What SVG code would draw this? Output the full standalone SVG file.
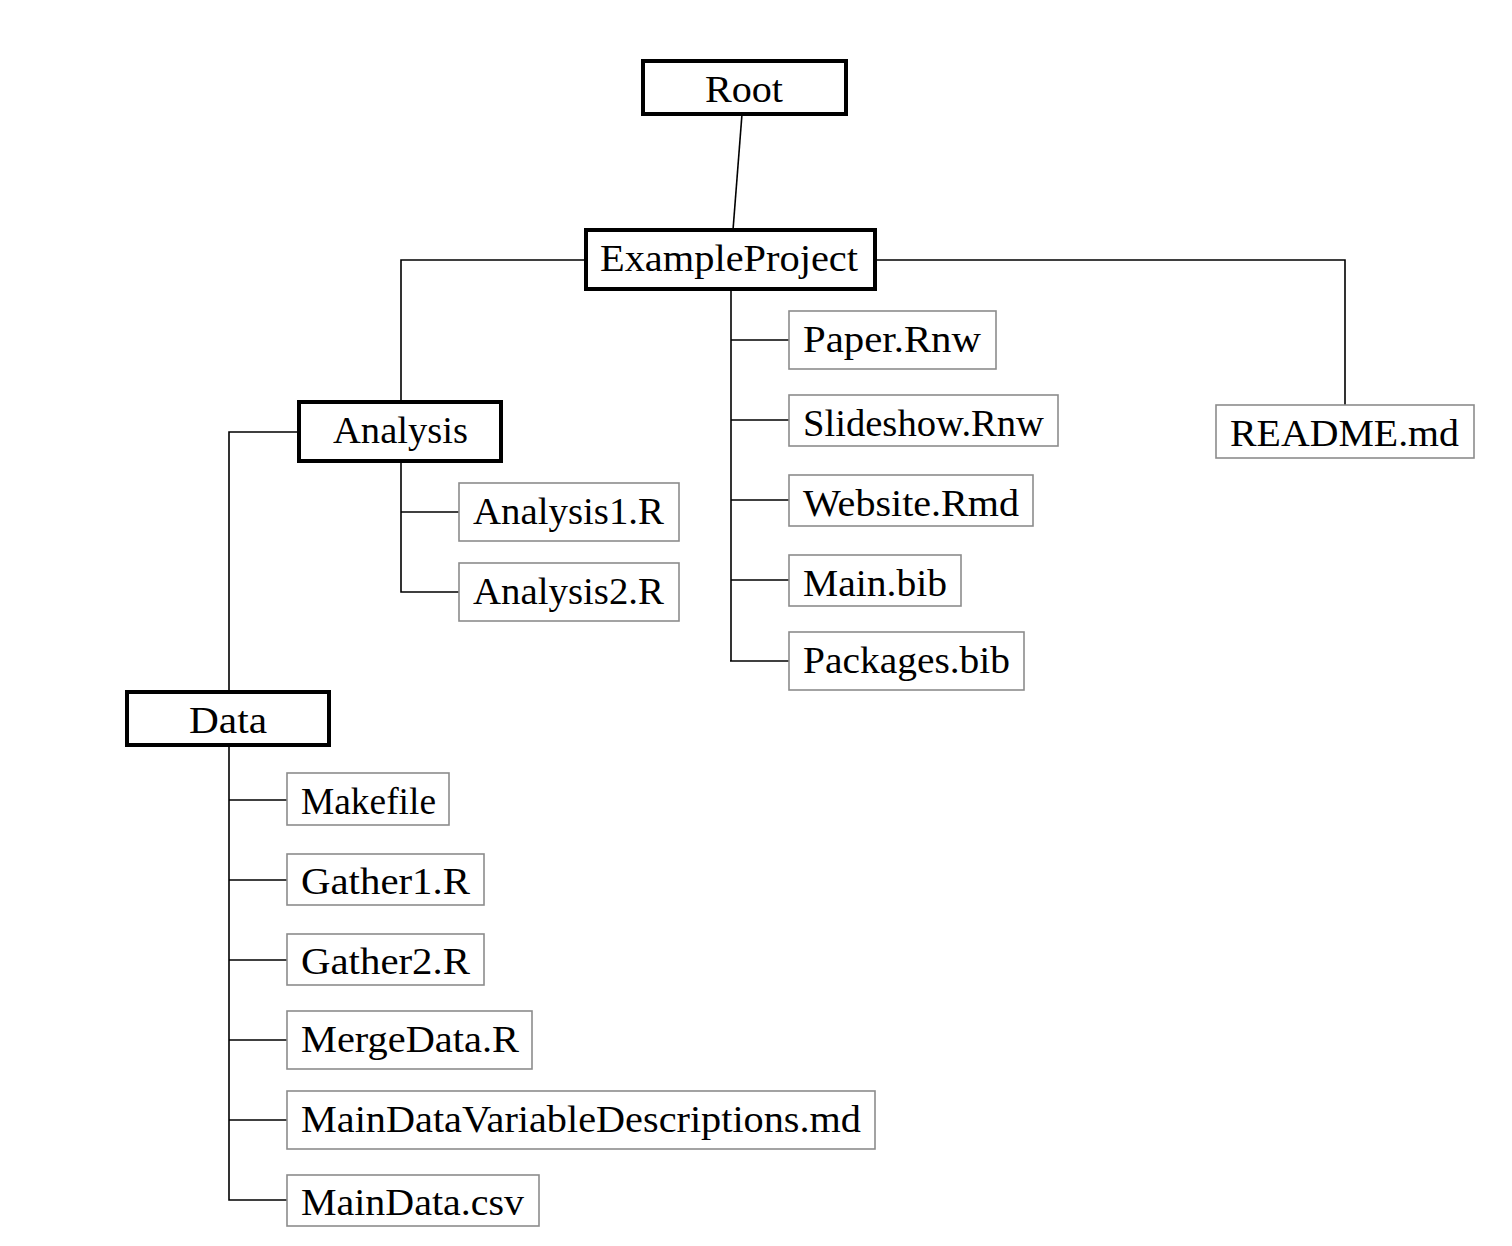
<svg xmlns="http://www.w3.org/2000/svg" width="1512" height="1246" viewBox="0 0 1512 1246">
<style>
.bg{fill:#fff}
.dir{fill:#fff;stroke:#000;stroke-width:4}
.file{fill:#fff;stroke:#8c8c8c;stroke-width:1.6}
.lbl{font-family:"Liberation Serif","DejaVu Serif",serif;font-size:37px;fill:#000}
.conn{fill:none;stroke:#000;stroke-width:1.6}
</style>
<rect class="bg" x="0" y="0" width="1512" height="1246"/>
<g id="connectors">
<line class="conn" x1="742" y1="114" x2="733" y2="230"/>
<polyline class="conn" points="586,260 401,260 401,402"/>
<polyline class="conn" points="875,260 1345,260 1345,405"/>
<line class="conn" x1="731" y1="289" x2="731" y2="661"/>
<line class="conn" x1="731" y1="340" x2="789" y2="340"/>
<line class="conn" x1="731" y1="420" x2="789" y2="420"/>
<line class="conn" x1="731" y1="500" x2="789" y2="500"/>
<line class="conn" x1="731" y1="580" x2="789" y2="580"/>
<line class="conn" x1="730" y1="661" x2="789" y2="661"/>
<polyline class="conn" points="299,432 229,432 229,692"/>
<polyline class="conn" points="401,461 401,592 459,592"/>
<line class="conn" x1="401" y1="512" x2="459" y2="512"/>
<polyline class="conn" points="229,745 229,1200 287,1200"/>
<line class="conn" x1="229" y1="800" x2="287" y2="800"/>
<line class="conn" x1="229" y1="880" x2="287" y2="880"/>
<line class="conn" x1="229" y1="960" x2="287" y2="960"/>
<line class="conn" x1="229" y1="1040" x2="287" y2="1040"/>
<line class="conn" x1="229" y1="1120" x2="287" y2="1120"/>
</g>
<g id="root"><rect class="dir" x="643" y="61" width="203" height="53"/><text class="lbl" x="705" y="102" textLength="78" lengthAdjust="spacingAndGlyphs">Root</text></g>
<g id="exampleproject"><rect class="dir" x="586" y="230" width="289" height="59"/><text class="lbl" x="600" y="271" textLength="258" lengthAdjust="spacingAndGlyphs">ExampleProject</text></g>
<g id="paper"><rect class="file" x="789" y="311" width="207" height="58"/><text class="lbl" x="803" y="352" textLength="178" lengthAdjust="spacingAndGlyphs">Paper.Rnw</text></g>
<g id="slideshow"><rect class="file" x="789" y="395" width="269" height="51"/><text class="lbl" x="803" y="436" textLength="241" lengthAdjust="spacingAndGlyphs">Slideshow.Rnw</text></g>
<g id="website"><rect class="file" x="789" y="475" width="244" height="51"/><text class="lbl" x="803" y="516" textLength="216" lengthAdjust="spacingAndGlyphs">Website.Rmd</text></g>
<g id="mainbib"><rect class="file" x="789" y="555" width="172" height="51"/><text class="lbl" x="803" y="596" textLength="144" lengthAdjust="spacingAndGlyphs">Main.bib</text></g>
<g id="packagesbib"><rect class="file" x="789" y="632" width="235" height="58"/><text class="lbl" x="803" y="673" textLength="207" lengthAdjust="spacingAndGlyphs">Packages.bib</text></g>
<g id="readme"><rect class="file" x="1216" y="405" width="258" height="53"/><text class="lbl" x="1230" y="446" textLength="229" lengthAdjust="spacingAndGlyphs">README.md</text></g>
<g id="analysis"><rect class="dir" x="299" y="402" width="202" height="59"/><text class="lbl" x="333" y="443" textLength="135" lengthAdjust="spacingAndGlyphs">Analysis</text></g>
<g id="analysis1"><rect class="file" x="459" y="483" width="220" height="58"/><text class="lbl" x="473" y="524" textLength="191" lengthAdjust="spacingAndGlyphs">Analysis1.R</text></g>
<g id="analysis2"><rect class="file" x="459" y="563" width="220" height="58"/><text class="lbl" x="473" y="604" textLength="191" lengthAdjust="spacingAndGlyphs">Analysis2.R</text></g>
<g id="data"><rect class="dir" x="127" y="692" width="202" height="53"/><text class="lbl" x="189" y="733" textLength="78" lengthAdjust="spacingAndGlyphs">Data</text></g>
<g id="makefile"><rect class="file" x="287" y="773" width="162" height="52"/><text class="lbl" x="301" y="814" textLength="135" lengthAdjust="spacingAndGlyphs">Makefile</text></g>
<g id="gather1"><rect class="file" x="287" y="854" width="197" height="51"/><text class="lbl" x="301" y="894" textLength="169" lengthAdjust="spacingAndGlyphs">Gather1.R</text></g>
<g id="gather2"><rect class="file" x="287" y="934" width="197" height="51"/><text class="lbl" x="301" y="974" textLength="169" lengthAdjust="spacingAndGlyphs">Gather2.R</text></g>
<g id="mergedata"><rect class="file" x="287" y="1011" width="245" height="58"/><text class="lbl" x="301" y="1052" textLength="218" lengthAdjust="spacingAndGlyphs">MergeData.R</text></g>
<g id="maindatavar"><rect class="file" x="287" y="1091" width="588" height="58"/><text class="lbl" x="301" y="1132" textLength="560" lengthAdjust="spacingAndGlyphs">MainDataVariableDescriptions.md</text></g>
<g id="maindatacsv"><rect class="file" x="287" y="1175" width="252" height="51"/><text class="lbl" x="301" y="1215" textLength="223" lengthAdjust="spacingAndGlyphs">MainData.csv</text></g>
</svg>
